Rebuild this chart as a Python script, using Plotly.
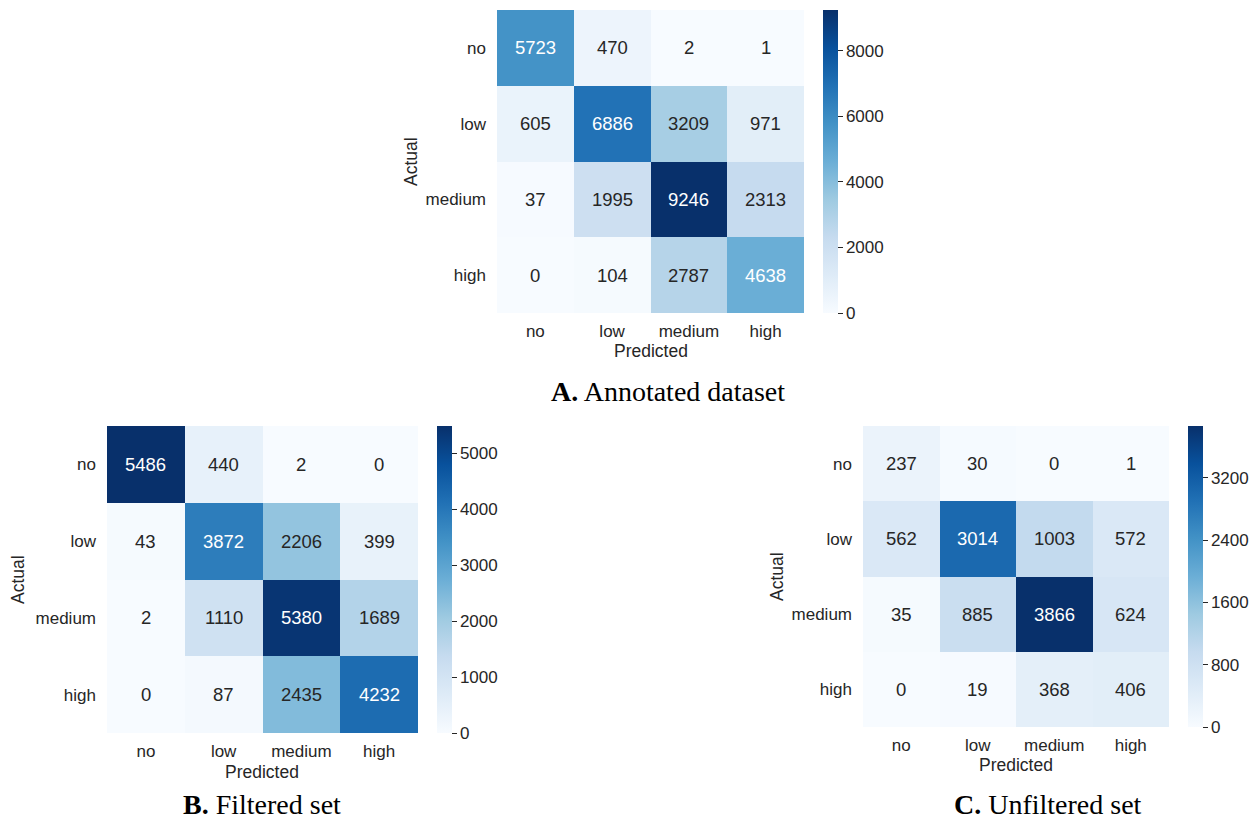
import plotly.graph_objects as go

W, H = 1260, 823

labels = ["no", "low", "medium", "high"]

annotated = [
    [5723, 470, 2, 1],
    [605, 6886, 3209, 971],
    [37, 1995, 9246, 2313],
    [0, 104, 2787, 4638],
]
filtered = [
    [5486, 440, 2, 0],
    [43, 3872, 2206, 399],
    [2, 1110, 5380, 1689],
    [0, 87, 2435, 4232],
]
unfiltered = [
    [237, 30, 0, 1],
    [562, 3014, 1003, 572],
    [35, 885, 3866, 624],
    [0, 19, 368, 406],
]
captions = ["<b>A.</b> Annotated dataset", "<b>B.</b> Filtered set", "<b>C.</b> Unfiltered set"]
cbar_ticks = [
    [0, 2000, 4000, 6000, 8000],
    [0, 1000, 2000, 3000, 4000, 5000],
    [0, 800, 1600, 2400, 3200],
]

# panel geometry in pixels: heatmap box (x0, x1, y0, y1), colorbar x0
panels = [
    dict(box=(497, 804, 10, 313), cb=823, actual=(411, 162), pred=(651, 351), cap=(668, 391)),
    dict(box=(107, 418, 426, 733), cb=437, actual=(18, 580), pred=(262, 772), cap=(262, 804)),
    dict(box=(863, 1169, 426, 727), cb=1188, actual=(777, 577), pred=(1016, 765), cap=(1048, 804)),
]
datasets = [annotated, filtered, unfiltered]

def px(x):
    return x / W

def py(y):
    return 1 - y / H

SANS = "Liberation Sans, Arial, sans-serif"
SERIF = "Liberation Serif, Times New Roman, serif"
TXT = "#262626"

fig = go.Figure()
annotations = []
layout = {}
for i, (data, p) in enumerate(zip(datasets, panels)):
    n = "" if i == 0 else str(i + 1)
    x0, x1, y0, y1 = p["box"]
    zmax = max(max(r) for r in data)
    fig.add_trace(go.Heatmap(
        z=data, x=labels, y=labels,
        xaxis="x" + n, yaxis="y" + n,
        colorscale="Blues", zmin=0, zmax=zmax,
        xgap=0, ygap=0,
        hoverinfo="skip",
        colorbar=dict(
            x=px(p["cb"]), xanchor="left", xref="paper", xpad=0,
            y=py(y1), yanchor="bottom", yref="paper", ypad=0,
            len=(y1 - y0) / H, lenmode="fraction",
            thickness=15, thicknessmode="pixels",
            outlinewidth=0,
            tickvals=cbar_ticks[i],
            ticks="outside", ticklen=5, tickwidth=1, tickcolor=TXT,
            tickfont=dict(family=SANS, size=17, color=TXT),
        ),
    ))
    layout["xaxis" + n] = dict(
        domain=[px(x0), px(x1)], anchor="y" + n,
        showgrid=False, zeroline=False, showline=False, ticks="",
        tickfont=dict(family=SANS, size=17, color=TXT),
        ticklabelstandoff=6,
    )
    layout["yaxis" + n] = dict(
        domain=[py(y1), py(y0)], anchor="x" + n,
        autorange="reversed",
        showgrid=False, zeroline=False, showline=False, ticks="",
        tickfont=dict(family=SANS, size=17, color=TXT),
        ticklabelstandoff=10,
    )
    for r, row in enumerate(data):
        for c, v in enumerate(row):
            frac = v / zmax
            annotations.append(dict(
                x=labels[c], y=labels[r], xref="x" + n, yref="y" + n,
                xanchor="center", yanchor="middle",
                text=str(v), showarrow=False,
                font=dict(family=SANS, size=18.5,
                          color="white" if frac > 0.47 else TXT),
            ))
    ax, ay = p["actual"]
    annotations.append(dict(x=px(ax), y=py(ay), xref="paper", yref="paper",
                            xanchor="center", yanchor="middle",
                            text="Actual", textangle=-90, showarrow=False,
                            font=dict(family=SANS, size=17.5, color=TXT)))
    qx, qy = p["pred"]
    annotations.append(dict(x=px(qx), y=py(qy), xref="paper", yref="paper",
                            xanchor="center", yanchor="middle",
                            text="Predicted", showarrow=False,
                            font=dict(family=SANS, size=17.5, color=TXT)))
    cx, cy = p["cap"]
    annotations.append(dict(x=px(cx), y=py(cy), xref="paper", yref="paper",
                            xanchor="center", yanchor="middle",
                            text=captions[i], showarrow=False, borderpad=0,
                            font=dict(family=SERIF, size=28, color="black")))

fig.update_layout(
    width=W, height=H,
    margin=dict(l=0, r=0, t=0, b=0),
    paper_bgcolor="white", plot_bgcolor="white",
    annotations=annotations,
    **layout,
)
fig.write_html(
    "out.html",
    config={"displayModeBar": False},
    post_script="document.body.style.margin='0';document.body.style.overflow='hidden';",
)
